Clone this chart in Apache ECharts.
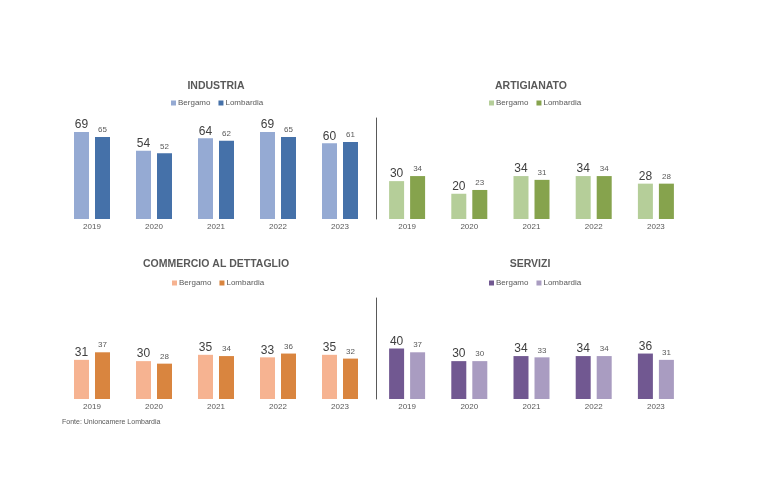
<!DOCTYPE html>
<html><head><meta charset="utf-8">
<script src="https://cdn.jsdelivr.net/npm/echarts@6/dist/echarts.min.js"></script>
<style>html,body{margin:0;padding:0;background:#fff}#c{width:774px;height:500px}</style>
</head><body><div id="c"></div>
<script>
var years = ['2019','2020','2021','2022','2023'];
var seriesNames = ['Bergamo','Lombardia'];
var panelTitles = ['INDUSTRIA','ARTIGIANATO','COMMERCIO AL DETTAGLIO','SERVIZI'];
var industriaBergamo = [69,54,64,69,60];
var industriaLombardia = [65,52,62,65,61];
var artigianatoBergamo = [30,20,34,34,28];
var artigianatoLombardia = [34,23,31,34,28];
var commercioBergamo = [31,30,35,33,35];
var commercioLombardia = [37,28,34,36,32];
var serviziBergamo = [40,30,34,34,36];
var serviziLombardia = [37,30,33,34,31];
var sourceNote = 'Fonte: Unioncamere Lombardia';

var panelData = [
  [industriaBergamo, industriaLombardia],
  [artigianatoBergamo, artigianatoLombardia],
  [commercioBergamo, commercioLombardia],
  [serviziBergamo, serviziLombardia]
];
var colors = [
  ['#95AAD3','#4571A9'],
  ['#B5CE99','#86A34D'],
  ['#F6B391','#D9853F'],
  ['#715891','#A99CC1']
];
var layout = [
  {left:61, top:118, width:310, height:101, cx:211, ty:76, lx:166, ly:94},
  {left:376, top:118, width:311, height:101, cx:526, ty:76, lx:484, ly:94},
  {left:61, top:298, width:310, height:101, cx:211, ty:254, lx:167, ly:274},
  {left:376, top:298, width:311, height:101, cx:525, ty:254, lx:484, ly:274}
];
var font = 'Liberation Sans, Arial, sans-serif';
var grids=[], xAxes=[], yAxes=[], series=[], titles=[], legends=[];
layout.forEach(function(L,i){
  grids.push({left:L.left, top:L.top, width:L.width, height:L.height});
  xAxes.push({type:'category', gridIndex:i, data:years,
    axisLine:{show:false}, axisTick:{show:false},
    axisLabel:{fontSize:8, color:'#595959', fontFamily:font, margin:4}});
  yAxes.push({type:'value', gridIndex:i, min:0, max:80,
    axisLine:{show:(i===1||i===3), lineStyle:{color:'#595959', width:1}},
    axisTick:{show:false}, axisLabel:{show:false}, splitLine:{show:false}});
  titles.push({text:panelTitles[i], left:L.cx, top:L.ty, textAlign:'center',
    textStyle:{fontSize:10.5, fontWeight:'bold', color:'#595959', fontFamily:font}});
  legends.push({left:L.lx, top:L.ly, orient:'horizontal',
    icon:'rect', itemWidth:5, itemHeight:5, itemGap:8,
    textStyle:{fontSize:8, color:'#595959', fontFamily:font, padding:[0,0,0,-3]},
    selectedMode:false,
    data: seriesNames.map(function(n,k){return {name:n, itemStyle:{color:colors[i][k]}};})});
  seriesNames.forEach(function(n,k){
    series.push({type:'bar', name:n, xAxisIndex:i, yAxisIndex:i,
      data:panelData[i][k], barWidth:15, barGap:'40%',
      itemStyle:{color:colors[i][k]},
      label:{show:true, position:'top', distance:k===0?1:3,
        fontSize:k===0?12:8, color:k===0?'#404040':'#595959', fontFamily:font},
      animation:false});
  });
});
titles.push({text:sourceNote, left:57, top:414,
  textStyle:{fontSize:7, fontWeight:'normal', color:'#595959', fontFamily:font}});
var chart = echarts.init(document.getElementById('c'), null, {renderer:'canvas'});
chart.setOption({animation:false, backgroundColor:'#fff', title:titles, legend:legends,
  grid:grids, xAxis:xAxes, yAxis:yAxes, series:series});
</script></body></html>
